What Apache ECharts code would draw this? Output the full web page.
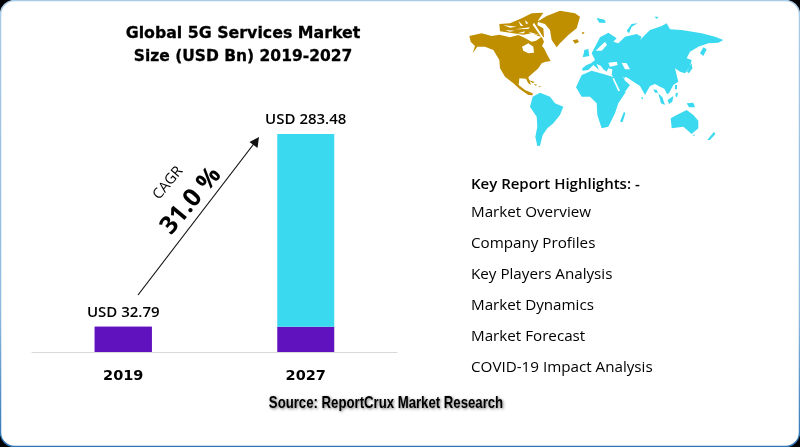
<!DOCTYPE html>
<html><head><meta charset="utf-8">
<style>html,body{margin:0;padding:0;background:#000}#c{width:800px;height:447px}</style>
<script src="https://cdn.jsdelivr.net/npm/echarts@6/dist/echarts.min.js"></script>
</head><body><div id="c"></div>
<script>
const categories = ['2019', '2027'];
const baseValues = [32.79, 32.79];
const growthValues = [null, 250.69];
const totalLabels = ['USD 32.79', 'USD 283.48'];
const highlights = ['Market Overview', 'Company Profiles', 'Key Players Analysis', 'Market Dynamics', 'Market Forecast', 'COVID-19 Impact Analysis'];

const GOLD = '#bf8f00', CYAN = '#3bd9ef', PURPLE = '#5f12bd';
// decorative world map outlines (crop A: origin 460,0; crop B: origin 575,10; both 3x)
const A = pts => pts.map(p => [460 + p[0]/3, p[1]/3]);
const B = pts => pts.map(p => [575 + p[0]/3, 10 + p[1]/3]);
const goldShapes = [
 [[28,108],[65,100],[95,108],[118,104],[150,112],[175,105],[190,112],[215,125],[228,122],[245,110],[252,125],[246,138],[252,145],[262,165],[272,183],[255,186],[245,190],[235,205],[218,220],[205,232],[213,255],[205,250],[198,236],[178,235],[176,255],[195,270],[218,280],[218,286],[205,285],[180,268],[160,250],[135,230],[120,205],[118,180],[100,150],[75,140],[52,140],[38,160],[45,138],[32,125]],
 [[118,72],[150,70],[185,55],[215,40],[250,38],[235,60],[232,75],[250,85],[252,112],[235,108],[215,100],[190,104],[160,100],[120,94]],
 [[232,65],[260,48],[300,32],[345,40],[360,50],[350,85],[325,105],[300,130],[290,142],[275,120],[270,90],[255,72]],
 [[338,121],[352,118],[357,126],[345,131]],[[366,97],[373,97],[372,101],[366,101]],
 [[205,240],[225,246],[218,249]],[[222,252],[232,254],[226,257]],[[236,258],[244,260],[238,262]]
].map(A);
const holes = [
 [[186,140],[205,130],[220,140],[222,158],[205,160],[190,152]],
 [[130,75],[170,80],[150,83]],[[165,88],[210,82],[205,87]],[[175,62],[190,78],[182,78]],[[205,95],[240,105],[215,102]],
 [[135,90],[165,92],[150,95]],[[195,60],[205,70],[198,72]],[[222,68],[250,112],[244,112],[218,74]],[[172,100],[195,94],[192,100]]
].map(A);
const cyanA = [
 [[218,290],[240,278],[270,290],[285,310],[310,320],[300,345],[280,370],[262,385],[248,405],[240,437],[232,438],[226,410],[232,380],[230,350],[210,320]],
 [[365,225],[395,212],[430,222],[462,232],[480,262],[497,277],[475,310],[465,340],[445,380],[425,385],[412,345],[410,310],[390,290],[365,290],[348,262]],
 [[375,150],[385,148],[388,168],[368,172]],[[410,55],[435,60],[436,68],[418,68]],
 [[480,365],[492,335],[496,340],[488,366]],
 [[632,355],[650,345],[680,330],[700,345],[715,362],[715,385],[695,402],[670,380],[635,385]],
 [[742,420],[762,395],[766,402],[750,420]],[[698,404],[705,404],[702,409]]
].map(A);
const cyanB = [
 [[22,175],[35,165],[48,160],[60,150],[50,130],[75,82],[100,68],[125,85],[115,95],[130,100],[150,80],[185,72],[200,80],[195,90],[215,70],[225,60],[260,48],[275,40],[285,58],[320,60],[380,70],[420,80],[445,90],[430,98],[400,100],[370,110],[345,125],[335,145],[350,150],[345,170],[330,190],[315,185],[300,175],[305,195],[310,215],[295,225],[282,250],[276,252],[268,236],[255,230],[240,222],[225,228],[210,255],[195,228],[175,215],[160,205],[150,200],[148,210],[165,225],[150,245],[135,245],[118,205],[110,195],[112,178],[100,175],[95,185],[85,178],[78,168],[65,162],[72,180],[55,165],[40,180],[22,182]],
 [[155,62],[170,42],[188,40],[170,50],[162,70]],
 [[375,130],[385,112],[395,118],[385,138]],
 [[335,185],[350,160],[352,175],[342,190]],
 [[250,250],[262,262],[270,285],[258,280]],
 [[278,270],[295,258],[292,275],[282,282]],
 [[335,280],[355,278],[360,292],[342,292]],
 [[235,238],[245,240],[250,248],[240,248]],
 [[300,225],[306,225],[306,238],[300,238]],[[303,248],[309,250],[306,262],[301,258]],
 [[66,24],[88,30],[92,38],[72,34]],[[238,20],[250,20],[246,27]],[[28,120],[40,118],[36,136],[26,136]],
 [[198,262],[204,262],[202,270]]
].map(B);
const seaB = [
 [[100,158],[125,155],[128,165],[105,170]],
 [[140,158],[155,160],[165,178],[150,178]],
 [[62,122],[90,95],[96,105],[80,122]],
 [[112,205],[117,205],[135,242],[130,244]],
 [[192,75],[205,68],[204,82]],[[140,198],[160,212],[150,208]]
].map(B);
const poly = (pts, fill) => ({type:'polygon', shape:{points:pts}, style:{fill}, silent:true});
const txt = (text, x, y, font, extra, more) => Object.assign({type:'text', x, y, style:Object.assign({text, font, fill:'#000', textVerticalAlign:'middle'}, extra||{}), silent:true}, more||{});
const rot = {rotation: 50*Math.PI/180};

const graphic = [
 {type:'rect', z:-10, shape:{x:0.5,y:0.5,width:799,height:446,r:14},
  style:{fill:'#fff', lineWidth:1.5, stroke:new echarts.graphic.LinearGradient(0,0,0,1,[{offset:0,color:'#a8cbe8'},{offset:0.7,color:'#8fb9de'},{offset:1,color:'#2e75b6'}])}, silent:true},
 ...goldShapes.map(s=>poly(s,GOLD)), ...holes.map(s=>poly(s,'#fff')),
 ...cyanA.map(s=>poly(s,CYAN)), ...cyanB.map(s=>poly(s,CYAN)), ...seaB.map(s=>poly(s,'#fff')),
 {type:'line', shape:{x1:138,y1:295,x2:256,y2:141}, style:{stroke:'#111', lineWidth:1.2}, silent:true},
 {type:'polygon', shape:{points:[[259,137],[257.5,148],[249.5,142]]}, style:{fill:'#111'}, silent:true},
 txt('CAGR',168,183,'14.5px "Open Sans"',{textAlign:'center'},rot),
 txt('31.0 %',191,201,'bold 25px "Open Sans"',{textAlign:'center'},rot),
 txt('Key Report Highlights: -',471,185,'600 15px "Open Sans"'),
 ...highlights.map((h,i)=>txt(h,471,213+i*31,'15.2px "Open Sans"')),
 txt('Global 5G Services Market',243,34,'bold 15.8px "DejaVu Sans"',{textAlign:'center',stroke:'#000',lineWidth:0.3}),
 txt('Size (USD Bn) 2019-2027',243,57,'bold 15.5px "DejaVu Sans"',{textAlign:'center',stroke:'#000',lineWidth:0.3}),
 txt('Source: ReportCrux Market Research',386,403,'bold 17px "Liberation Sans"',{textAlign:'center',textShadowColor:'rgba(0,0,0,0.55)',textShadowBlur:3,textShadowOffsetX:1,textShadowOffsetY:1},{scaleX:0.775})
];

const chart = echarts.init(document.getElementById('c'), null, {renderer:'canvas'});
const lbl = {show:true, position:'top', distance:7, color:'#000', fontFamily:'Open Sans', fontWeight:600, fontSize:15, formatter:p=>totalLabels[p.dataIndex]};
chart.setOption({
 animation:false,
 backgroundColor:'#000',
 grid:{left:32, right:403, top:134, bottom:95},
 xAxis:{type:'category', data:categories, axisTick:{show:false}, axisLine:{lineStyle:{color:'#d9d9d9',width:1}},
   axisLabel:{color:'#000', fontFamily:'DejaVu Sans', fontWeight:'bold', fontSize:14.5, margin:17}},
 yAxis:{type:'value', min:0, max:283.48, show:false},
 series:[
  {type:'bar', stack:'t', barWidth:57, data:baseValues, itemStyle:{color:PURPLE}},
  {type:'bar', stack:'t', barWidth:57, data:growthValues, itemStyle:{color:CYAN}, label:lbl},
  {type:'bar', barGap:'-100%', barWidth:57, data:[baseValues[0],null], itemStyle:{color:PURPLE}, label:lbl, z:1}
 ],
 graphic
});
</script></body></html>
